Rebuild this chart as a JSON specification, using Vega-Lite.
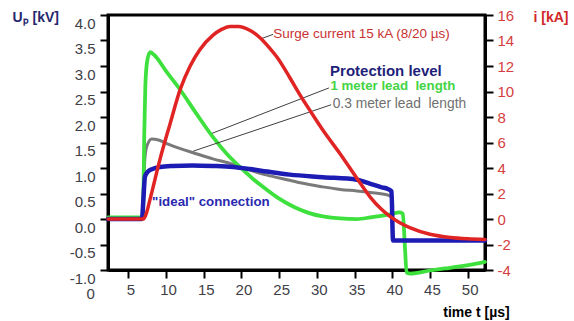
{
  "$schema": "https://vega.github.io/schema/vega-lite/v6.json",
  "width": 377,
  "height": 255,
  "autosize": {"type": "none"},
  "padding": {"left": 108, "top": 15, "right": 89, "bottom": 51},
  "background": "white",
  "config": {
    "font": "Liberation Sans",
    "view": {"stroke": "black", "strokeWidth": 3},
    "axis": {"grid": false, "domainColor": "black", "domainWidth": 3, "tickColor": "black", "tickWidth": 2, "tickSize": 8, "labelFontSize": 15, "labelOverlap": false, "labelFlush": false, "labelBound": false, "tickCount": 30}
  },
  "datasets": {
    "voltage": [
      {"series": "gray", "t": 2.3, "U": 0}, {"series": "gray", "t": 6.8, "U": 0}, {"series": "gray", "t": 7.0, "U": 0.6}, {"series": "gray", "t": 7.2, "U": 1.2}, {"series": "gray", "t": 7.5, "U": 1.45}, {"series": "gray", "t": 8.1, "U": 1.57}, {"series": "gray", "t": 9.0, "U": 1.55}, {"series": "gray", "t": 10.1, "U": 1.48}, {"series": "gray", "t": 11.9, "U": 1.38}, {"series": "gray", "t": 13.6, "U": 1.3}, {"series": "gray", "t": 16.2, "U": 1.18}, {"series": "gray", "t": 18.9, "U": 1.07}, {"series": "gray", "t": 20.2, "U": 1.0}, {"series": "gray", "t": 21.1, "U": 0.96}, {"series": "gray", "t": 23.4, "U": 0.86}, {"series": "gray", "t": 26.4, "U": 0.76}, {"series": "gray", "t": 27.8, "U": 0.71}, {"series": "gray", "t": 30.8, "U": 0.63}, {"series": "gray", "t": 33.1, "U": 0.58}, {"series": "gray", "t": 35.3, "U": 0.55}, {"series": "gray", "t": 37.1, "U": 0.52}, {"series": "gray", "t": 39.4, "U": 0.47}, {"series": "gray", "t": 39.9, "U": 0.43}, {"series": "gray", "t": 40.1, "U": -0.42}, {"series": "gray", "t": 52.3, "U": -0.42},
      {"series": "green", "t": 2.3, "U": 0.03}, {"series": "green", "t": 6.9, "U": 0.03}, {"series": "green", "t": 7.0, "U": 0.5}, {"series": "green", "t": 7.1, "U": 1.6}, {"series": "green", "t": 7.25, "U": 2.6}, {"series": "green", "t": 7.5, "U": 3.1}, {"series": "green", "t": 7.9, "U": 3.27}, {"series": "green", "t": 8.4, "U": 3.22}, {"series": "green", "t": 10.0, "U": 2.9}, {"series": "green", "t": 11.9, "U": 2.53}, {"series": "green", "t": 14.0, "U": 2.07}, {"series": "green", "t": 16.2, "U": 1.61}, {"series": "green", "t": 18.1, "U": 1.27}, {"series": "green", "t": 19.8, "U": 1.02}, {"series": "green", "t": 21.5, "U": 0.79}, {"series": "green", "t": 23.4, "U": 0.57}, {"series": "green", "t": 25.0, "U": 0.4}, {"series": "green", "t": 26.4, "U": 0.28}, {"series": "green", "t": 27.8, "U": 0.18}, {"series": "green", "t": 29.1, "U": 0.11}, {"series": "green", "t": 30.8, "U": 0.05}, {"series": "green", "t": 33.1, "U": 0.01}, {"series": "green", "t": 35.3, "U": 0.0}, {"series": "green", "t": 37.1, "U": 0.03}, {"series": "green", "t": 39.7, "U": 0.09}, {"series": "green", "t": 41.0, "U": 0.13}, {"series": "green", "t": 41.4, "U": 0.1}, {"series": "green", "t": 41.7, "U": -0.6}, {"series": "green", "t": 41.9, "U": -1.05}, {"series": "green", "t": 42.4, "U": -1.07}, {"series": "green", "t": 45.0, "U": -1.01}, {"series": "green", "t": 47.0, "U": -0.97}, {"series": "green", "t": 49.0, "U": -0.93}, {"series": "green", "t": 51.0, "U": -0.88}, {"series": "green", "t": 52.3, "U": -0.84},
      {"series": "blue", "t": 2.3, "U": 0}, {"series": "blue", "t": 6.8, "U": 0}, {"series": "blue", "t": 7.0, "U": 0.4}, {"series": "blue", "t": 7.2, "U": 0.83}, {"series": "blue", "t": 7.6, "U": 0.93}, {"series": "blue", "t": 8.2, "U": 0.98}, {"series": "blue", "t": 9.2, "U": 1.02}, {"series": "blue", "t": 10.9, "U": 1.04}, {"series": "blue", "t": 13.5, "U": 1.05}, {"series": "blue", "t": 16.2, "U": 1.04}, {"series": "blue", "t": 18.9, "U": 1.02}, {"series": "blue", "t": 21.1, "U": 0.98}, {"series": "blue", "t": 23.4, "U": 0.93}, {"series": "blue", "t": 26.4, "U": 0.87}, {"series": "blue", "t": 30.8, "U": 0.82}, {"series": "blue", "t": 35.3, "U": 0.77}, {"series": "blue", "t": 37.1, "U": 0.69}, {"series": "blue", "t": 38.6, "U": 0.62}, {"series": "blue", "t": 39.4, "U": 0.59}, {"series": "blue", "t": 39.9, "U": 0.54}, {"series": "blue", "t": 40.1, "U": -0.42}, {"series": "blue", "t": 52.3, "U": -0.42}
    ],
    "current": [
      {"t": 2.3, "i": 0}, {"t": 7.0, "i": 0}, {"t": 7.3, "i": 0.3}, {"t": 7.9, "i": 1.6}, {"t": 9.2, "i": 4.7}, {"t": 10.5, "i": 7.4}, {"t": 11.9, "i": 10.2}, {"t": 13.2, "i": 12.0}, {"t": 14.5, "i": 13.3}, {"t": 16.2, "i": 14.4}, {"t": 17.3, "i": 14.85}, {"t": 18.5, "i": 15.1}, {"t": 19.6, "i": 15.1}, {"t": 21.1, "i": 14.8}, {"t": 22.5, "i": 14.2}, {"t": 23.6, "i": 13.5}, {"t": 24.7, "i": 12.7}, {"t": 26.4, "i": 11.1}, {"t": 27.8, "i": 9.7}, {"t": 29.1, "i": 8.5}, {"t": 31.0, "i": 6.8}, {"t": 33.1, "i": 5.1}, {"t": 35.3, "i": 3.2}, {"t": 37.1, "i": 1.7}, {"t": 38.5, "i": 0.8}, {"t": 39.7, "i": 0.2}, {"t": 41.0, "i": -0.3}, {"t": 42.4, "i": -0.7}, {"t": 45.0, "i": -1.2}, {"t": 47.7, "i": -1.45}, {"t": 50.0, "i": -1.55}, {"t": 52.3, "i": -1.6}
    ],
    "leaders": [
      {"id": "green", "t": 16.1, "U": 1.68}, {"id": "green", "t": 31.6, "U": 2.57},
      {"id": "gray", "t": 13.6, "U": 1.33}, {"id": "gray", "t": 31.9, "U": 2.24},
      {"id": "surge", "t": 22.7, "U": 3.54}, {"id": "surge", "t": 24.2, "U": 3.62}
    ]
  },
  "layer": [
    {
      "layer": [
        {
          "data": {"name": "voltage"},
          "mark": {"type": "line", "interpolate": "monotone", "strokeCap": "round", "strokeJoin": "round"},
          "encoding": {
            "x": {"field": "t", "type": "quantitative", "scale": {"domain": [2.3, 52.3], "nice": false, "zero": false},
              "axis": {"values": [5, 10, 15, 20, 25, 30, 35, 40, 45, 50], "format": "d", "labelColor": "#404048", "labelPadding": 4, "labelOffset": 2,
                "title": "time t [µs]", "titleFontSize": 14, "titleFontWeight": "bold", "titleColor": "black", "titleX": 368, "titleY": 42, "titleAlign": "center", "titleBaseline": "middle"}},
            "y": {"field": "U", "type": "quantitative", "scale": {"domain": [-1, 4], "nice": false, "zero": false},
              "axis": {"values": [-1, -0.5, 0, 0.5, 1, 1.5, 2, 2.5, 3, 3.5, 4], "format": ".1f", "labelExpr": "replace(datum.label, '\u2212', '-')", "labelColor": "#404048", "labelPadding": 5, "labelOffset": 8,
                "title": "Uₚ [kV]", "titleAngle": 0, "titleX": -96, "titleY": 2, "titleAlign": "left", "titleBaseline": "middle", "titleFontSize": 14, "titleFontWeight": "bold", "titleColor": "#27276e"}},
            "detail": {"field": "series"},
            "color": {"field": "series", "type": "nominal", "scale": {"domain": ["gray", "green", "blue"], "range": ["#7a7a7a", "#3de03d", "#1c1cb4"]}, "legend": null},
            "strokeWidth": {"field": "series", "type": "nominal", "scale": {"domain": ["gray", "green", "blue"], "range": [3, 4.5, 2.8]}, "legend": null}
          }
        },
        {
          "data": {"name": "leaders"},
          "mark": {"type": "line", "color": "#404040", "strokeWidth": 1},
          "encoding": {
            "x": {"field": "t", "type": "quantitative"},
            "y": {"field": "U", "type": "quantitative"},
            "detail": {"field": "id"}
          }
        },
        {
          "data": {"values": [{"t": 0, "U": -1, "label": "0"}]},
          "mark": {"type": "text", "dy": 24, "fontSize": 15, "color": "#404048", "align": "center", "baseline": "middle"},
          "encoding": {"x": {"field": "t", "type": "quantitative"}, "y": {"field": "U", "type": "quantitative"}, "text": {"field": "label"}}
        },
        {
          "data": {"values": [{"t": 24.2, "U": 3.62, "label": "Surge current 15 kA (8/20 µs)"}]},
          "mark": {"type": "text", "fontSize": 13.5, "color": "#c83232", "align": "left", "baseline": "middle"},
          "encoding": {"x": {"field": "t", "type": "quantitative"}, "y": {"field": "U", "type": "quantitative"}, "text": {"field": "label"}}
        },
        {
          "data": {"values": [{"t": 31.75, "U": 2.91, "label": "Protection level"}]},
          "mark": {"type": "text", "fontSize": 15, "fontWeight": "bold", "color": "#1f1f7a", "align": "left", "baseline": "middle"},
          "encoding": {"x": {"field": "t", "type": "quantitative"}, "y": {"field": "U", "type": "quantitative"}, "text": {"field": "label"}}
        },
        {
          "data": {"values": [{"t": 31.8, "U": 2.6, "label": "1 meter lead\u00a0 length"}]},
          "mark": {"type": "text", "fontSize": 13.3, "fontWeight": "bold", "color": "#44d444", "align": "left", "baseline": "middle"},
          "encoding": {"x": {"field": "t", "type": "quantitative"}, "y": {"field": "U", "type": "quantitative"}, "text": {"field": "label"}}
        },
        {
          "data": {"values": [{"t": 32.1, "U": 2.26, "label": "0.3 meter lead\u00a0 length"}]},
          "mark": {"type": "text", "fontSize": 13.8, "color": "#707070", "align": "left", "baseline": "middle"},
          "encoding": {"x": {"field": "t", "type": "quantitative"}, "y": {"field": "U", "type": "quantitative"}, "text": {"field": "label"}}
        },
        {
          "data": {"values": [{"t": 8.15, "U": 0.34, "label": "\"ideal\" connection"}]},
          "mark": {"type": "text", "fontSize": 13.3, "fontWeight": "bold", "color": "#2a2ab0", "align": "left", "baseline": "middle"},
          "encoding": {"x": {"field": "t", "type": "quantitative"}, "y": {"field": "U", "type": "quantitative"}, "text": {"field": "label"}}
        }
      ]
    },
    {
      "data": {"name": "current"},
      "mark": {"type": "line", "interpolate": "monotone", "color": "#e02424", "strokeWidth": 3.5, "strokeCap": "round"},
      "encoding": {
        "x": {"field": "t", "type": "quantitative"},
        "y": {"field": "i", "type": "quantitative", "scale": {"domain": [-4, 16], "nice": false, "zero": false},
          "axis": {"orient": "right", "values": [-4, -2, 0, 2, 4, 6, 8, 10, 12, 14, 16], "format": "d", "labelExpr": "replace(datum.label, '\u2212', '-')", "labelColor": "#d44040", "labelPadding": 4,
            "title": "i [kA]", "titleAngle": 0, "titleX": 48, "titleY": 2, "titleAlign": "left", "titleBaseline": "middle", "titleFontSize": 14, "titleFontWeight": "bold", "titleColor": "#d02828"}}
      }
    }
  ],
  "resolve": {"scale": {"y": "independent"}}
}
